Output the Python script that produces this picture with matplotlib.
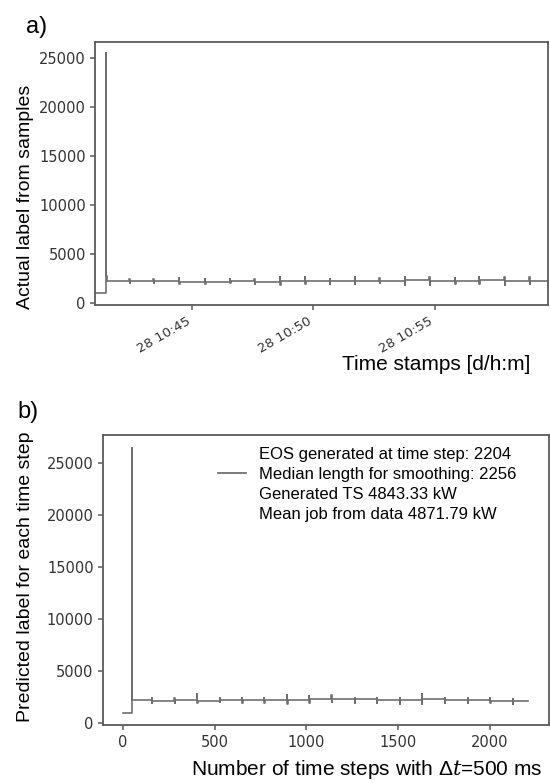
import numpy as np
import matplotlib
matplotlib.use("Agg")
import matplotlib.pyplot as plt
import matplotlib.dates as mdates
from matplotlib.lines import Line2D

# ---- panel a: actual label, times in seconds after 10:41:00 ----
a_start = np.datetime64("2019-01-28T10:41:00")
a_end = 1121
a_init_level = 1000
a_peak_t = 26
a_peak = 25540
a_after_peak = 2800
a_spike_t = [84, 143, 207, 271, 333, 394, 457, 519, 580, 642, 703, 766, 827, 890, 950, 1013, 1075]
a_spike_hi = [2450, 2400, 2500, 2450, 2400, 2450, 2650, 2600, 2450, 2600, 2500, 2650, 2700, 2550, 2600, 2700, 2600]
a_spike_lo = [2050, 2000, 1950, 1950, 2000, 1950, 1850, 1900, 1950, 1900, 2000, 1800, 1850, 1950, 1900, 1850, 1900]
a_levels = [2250, 2200, 2250, 2150, 2150, 2200, 2150, 2200, 2200, 2250, 2200, 2250, 2300, 2250, 2250, 2300, 2250, 2200]

# ---- panel b: predicted label per time step ----
b_end = 2204
b_init_level = 1000
b_peak_t = 48
b_peak = 26470
b_after_peak = 2850
b_spike_t = [157, 282, 406, 527, 651, 770, 896, 1015, 1136, 1264, 1385, 1509, 1628, 1752, 1877, 2001, 2122]
b_spike_hi = [2450, 2400, 2750, 2400, 2450, 2400, 2650, 2600, 2700, 2450, 2450, 2450, 2750, 2450, 2450, 2400, 2350]
b_spike_lo = [1950, 1900, 1950, 2000, 1950, 1900, 1850, 1900, 2000, 1950, 1950, 1800, 1850, 1950, 1950, 1900, 1850]
b_levels = [2200, 2150, 2200, 2150, 2200, 2250, 2200, 2250, 2300, 2350, 2300, 2250, 2250, 2300, 2250, 2200, 2150, 2150]

legend_lines = ["EOS generated at time step: 2204",
                "Median length for smoothing: 2256",
                "Generated TS 4843.33 kW",
                "Mean job from data 4871.79 kW"]


def build(init, peak_t, peak, after, spike_t, hi, lo, levels, end):
    # step series assembled from the read-off breakpoints
    t = [0, peak_t, peak_t + 1, peak_t + 3]
    v = [init, peak, after, levels[0]]
    for i, s in enumerate(spike_t):
        t += [s, s + 1, s + 2]
        v += [hi[i], lo[i], levels[i + 1]]
    t.append(end)
    v.append(levels[-1])
    return np.array(t), np.array(v)


line_c = "#6f6f6f"
spine_c = "#5a5a5a"
lab_font = "Liberation Sans"
plt.rcParams["mathtext.fontset"] = "custom"
plt.rcParams["mathtext.it"] = "DejaVu Serif:italic"
plt.rcParams["mathtext.rm"] = "Liberation Sans"

fig = plt.figure(figsize=(5.5, 7.83), dpi=100)
ax1 = fig.add_axes([0.1735, 0.6105, 0.8229, 0.3359])
ax2 = fig.add_axes([0.188, 0.0741, 0.810, 0.3703])

ta, va = build(a_init_level, a_peak_t, a_peak, a_after_peak, a_spike_t,
               a_spike_hi, a_spike_lo, a_levels, a_end)
times = a_start + ta * np.timedelta64(1, "s")
ax1.plot(times, va, drawstyle="steps-post", color=line_c, lw=1.2)
ax1.set_xlim(times[0], times[-1])
ax1.set_ylim(-204, 26630)
ax1.set_yticks([0, 5000, 10000, 15000, 20000, 25000])
ax1.xaxis.set_major_locator(mdates.MinuteLocator(byminute=[45, 50, 55]))
ax1.xaxis.set_major_formatter(mdates.DateFormatter("%d %H:%M"))
for lab in ax1.get_xticklabels():
    lab.set_rotation(30)
    lab.set_ha("right")

tb, vb = build(b_init_level, b_peak_t, b_peak, b_after_peak, b_spike_t,
               b_spike_hi, b_spike_lo, b_levels, b_end)
ax2.plot(tb, vb, drawstyle="steps-post", color=line_c, lw=1.2)
ax2.set_xlim(-105, 2320)
ax2.set_ylim(-192, 27690)
ax2.set_xticks([0, 500, 1000, 1500, 2000])
ax2.set_yticks([0, 5000, 10000, 15000, 20000, 25000])

for ax in (ax1, ax2):
    for sp in ax.spines.values():
        sp.set_color(spine_c)
        sp.set_linewidth(1.3)
    ax.tick_params(colors=spine_c, labelcolor="#333333", labelsize=10.5, width=1.1)
ax1.tick_params(axis="x", labelsize=9.5)

handles = [Line2D([], [], color="none"), Line2D([], [], color=line_c, lw=1.3),
           Line2D([], [], color="none"), Line2D([], [], color="none")]
ax2.legend(handles, legend_lines, loc="upper left", bbox_to_anchor=(0.257, 0.96),
           frameon=False, borderpad=0, borderaxespad=0, handlelength=1.7,
           handletextpad=0.75, labelspacing=0.3,
           prop={"family": lab_font, "size": 12})

fig.text(0.047, 0.965, "a)", fontsize=17, family=lab_font, va="center")
fig.text(0.032, 0.474, "b)", fontsize=17, family=lab_font, va="center")
fig.text(0.047, 0.748, "Actual label from samples", rotation=90, ha="center",
         va="center", fontsize=14, family=lab_font)
fig.text(0.047, 0.264, "Predicted label for each time step", rotation=90,
         ha="center", va="center", fontsize=14, family=lab_font)
fig.text(0.964, 0.534, "Time stamps [d/h:m]", ha="right", va="center",
         fontsize=15, family=lab_font)
fig.text(0.986, 0.017, r"Number of time steps with $\mathit{\Delta t}$=500 ms", ha="right",
         va="center", fontsize=15, family=lab_font)

fig.savefig("out.png", dpi=100)
